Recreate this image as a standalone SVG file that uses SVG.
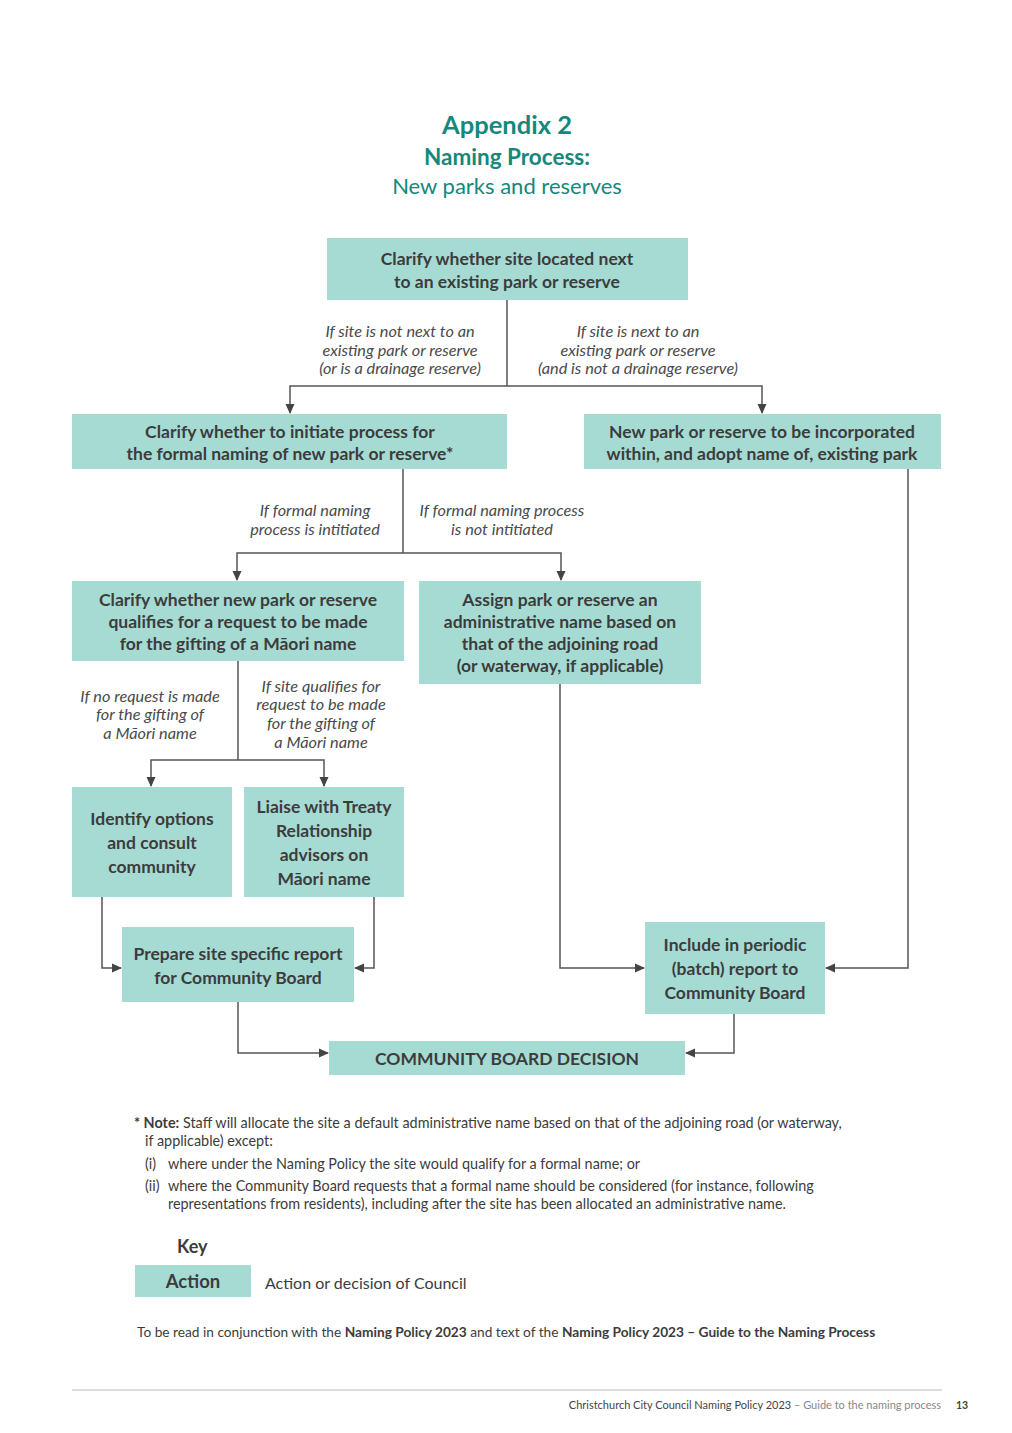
<svg xmlns="http://www.w3.org/2000/svg" width="1012" height="1433" viewBox="0 0 1012 1433">
<style>
.bx{fill:#a6dbd4}
.t{font-family:Lato,"Open Sans",sans-serif;font-weight:bold;font-size:17.5px;fill:#3c3c3c;text-anchor:middle}
.l{font-family:Lato,"Open Sans",sans-serif;font-style:italic;font-size:16.3px;fill:#4a4a4a;text-anchor:middle}
.c{fill:none;stroke:#555;stroke-width:1.5}
.n{font-family:Lato,"Open Sans",sans-serif;font-size:14.4px;fill:#3c3c3c}
.h{font-family:Lato,"Open Sans",sans-serif;fill:#14887c;text-anchor:middle}
</style>
<defs>
<marker id="a" markerWidth="10" markerHeight="10" refX="9" refY="5" orient="auto" markerUnits="userSpaceOnUse">
<path d="M0,0.5 L10,5 L0,9.5 Z" fill="#444"/>
</marker>
</defs>
<rect width="1012" height="1433" fill="#fff"/>
<text class="h" x="507" y="134" font-size="25.5" font-weight="bold">Appendix 2</text>
<text class="h" x="507" y="165" font-size="22.5" font-weight="bold">Naming Process:</text>
<text class="h" x="507" y="194" font-size="22">New parks and reserves</text>

<g id="connectors">
<path class="c" d="M507,300 V386"/>
<path class="c" d="M507,386 H290 V413" marker-end="url(#a)"/>
<path class="c" d="M507,386 H762 V413" marker-end="url(#a)"/>
<path class="c" d="M403,469 V553"/>
<path class="c" d="M403,553 H237 V580" marker-end="url(#a)"/>
<path class="c" d="M403,553 H561 V580" marker-end="url(#a)"/>
<path class="c" d="M238,661 V760"/>
<path class="c" d="M238,760 H151 V786" marker-end="url(#a)"/>
<path class="c" d="M238,760 H324 V786" marker-end="url(#a)"/>
<path class="c" d="M102,897 V968 H121" marker-end="url(#a)"/>
<path class="c" d="M374,897 V968 H355" marker-end="url(#a)"/>
<path class="c" d="M560,684 V968 H644" marker-end="url(#a)"/>
<path class="c" d="M908,469 V968 H826" marker-end="url(#a)"/>
<path class="c" d="M238,1002 V1053 H328" marker-end="url(#a)"/>
<path class="c" d="M734,1014 V1053 H686" marker-end="url(#a)"/>
<text class="l" x="400" y="337">If site is not next to an</text>
<text class="l" x="400" y="356">existing park or reserve</text>
<text class="l" x="400" y="374">(or is a drainage reserve)</text>
<text class="l" x="638" y="337">If site is next to an</text>
<text class="l" x="638" y="356">existing park or reserve</text>
<text class="l" x="638" y="374">(and is not a drainage reserve)</text>
<text class="l" x="315" y="516">If formal naming</text>
<text class="l" x="315" y="535">process is intitiated</text>
<text class="l" x="502" y="516">If formal naming process</text>
<text class="l" x="502" y="535">is not intitiated</text>
<text class="l" x="150" y="702">If no request is made</text>
<text class="l" x="150" y="720">for the gifting of</text>
<text class="l" x="150" y="739">a Māori name</text>
<text class="l" x="321" y="692">If site qualifies for</text>
<text class="l" x="321" y="710">request to be made</text>
<text class="l" x="321" y="729">for the gifting of</text>
<text class="l" x="321" y="748">a Māori name</text>
</g>

<g id="n1"><rect class="bx" x="327" y="238" width="361" height="62"/>
<text class="t" x="507" y="265">Clarify whether site located next</text>
<text class="t" x="507" y="288">to an existing park or reserve</text></g>
<g id="n2"><rect class="bx" x="72" y="414" width="435" height="55"/>
<text class="t" x="290" y="438">Clarify whether to initiate process for</text>
<text class="t" x="290" y="460">the formal naming of new park or reserve*</text></g>
<g id="n3"><rect class="bx" x="584" y="414" width="357" height="55"/>
<text class="t" x="762" y="438">New park or reserve to be incorporated</text>
<text class="t" x="762" y="460">within, and adopt name of, existing park</text></g>
<g id="n4"><rect class="bx" x="72" y="581" width="332" height="80"/>
<text class="t" x="238" y="606">Clarify whether new park or reserve</text>
<text class="t" x="238" y="628">qualifies for a request to be made</text>
<text class="t" x="238" y="650">for the gifting of a Māori name</text></g>
<g id="n5"><rect class="bx" x="419" y="581" width="282" height="103"/>
<text class="t" x="560" y="606">Assign park or reserve an</text>
<text class="t" x="560" y="628">administrative name based on</text>
<text class="t" x="560" y="650">that of the adjoining road</text>
<text class="t" x="560" y="672">(or waterway, if applicable)</text></g>
<g id="n6"><rect class="bx" x="72" y="787" width="160" height="110"/>
<text class="t" x="152" y="825">Identify options</text>
<text class="t" x="152" y="849">and consult</text>
<text class="t" x="152" y="873">community</text></g>
<g id="n7"><rect class="bx" x="244" y="787" width="160" height="110"/>
<text class="t" x="324" y="813">Liaise with Treaty</text>
<text class="t" x="324" y="837">Relationship</text>
<text class="t" x="324" y="861">advisors on</text>
<text class="t" x="324" y="885">Māori name</text></g>
<g id="n8"><rect class="bx" x="122" y="927" width="232" height="75"/>
<text class="t" x="238" y="960">Prepare site specific report</text>
<text class="t" x="238" y="984">for Community Board</text></g>
<g id="n9"><rect class="bx" x="645" y="922" width="180" height="92"/>
<text class="t" x="735" y="951">Include in periodic</text>
<text class="t" x="735" y="975">(batch) report to</text>
<text class="t" x="735" y="999">Community Board</text></g>
<g id="n10"><rect class="bx" x="329" y="1041" width="356" height="34"/>
<text class="t" x="507" y="1065">COMMUNITY BOARD DECISION</text></g>

<g id="note">
<text class="n" x="134" y="1128"><tspan font-weight="bold">* Note:</tspan>  Staff will allocate the site a default administrative name based on that of the adjoining road (or waterway,</text>
<text class="n" x="145" y="1146">if applicable) except:</text>
<text class="n" x="145" y="1169">(i)</text>
<text class="n" x="168" y="1169">where under the Naming Policy the site would qualify for a formal name; or</text>
<text class="n" x="145" y="1191">(ii)</text>
<text class="n" x="168" y="1191">where the Community Board requests that a formal name should be considered (for instance, following</text>
<text class="n" x="168" y="1209">representations from residents), including after the site has been allocated an administrative name.</text>
</g>

<g id="key">
<text x="177" y="1253" font-family="Lato,sans-serif" font-weight="bold" font-size="18" fill="#3c3c3c">Key</text>
<rect class="bx" x="135" y="1265" width="116" height="32"/>
<text class="t" x="193" y="1288" style="font-size:18.5px">Action</text>
<text x="265" y="1289" font-family="Lato,sans-serif" font-size="16" fill="#3c3c3c">Action or decision of Council</text>
</g>
<text class="n" x="137" y="1337" style="font-size:13.7px">To be read in conjunction with the <tspan font-weight="bold">Naming Policy 2023</tspan> and text of the <tspan font-weight="bold">Naming Policy 2023 – Guide to the Naming Process</tspan></text>

<line x1="72" y1="1390" x2="942" y2="1390" stroke="#bbb" stroke-width="1"/>
<text x="941" y="1409" font-family="Lato,sans-serif" font-size="11" fill="#444" text-anchor="end">Christchurch City Council Naming Policy 2023 <tspan fill="#888">– Guide to the naming process</tspan></text>
<text x="956" y="1409" font-family="Lato,sans-serif" font-size="10.5" font-weight="bold" fill="#444">13</text>
</svg>
